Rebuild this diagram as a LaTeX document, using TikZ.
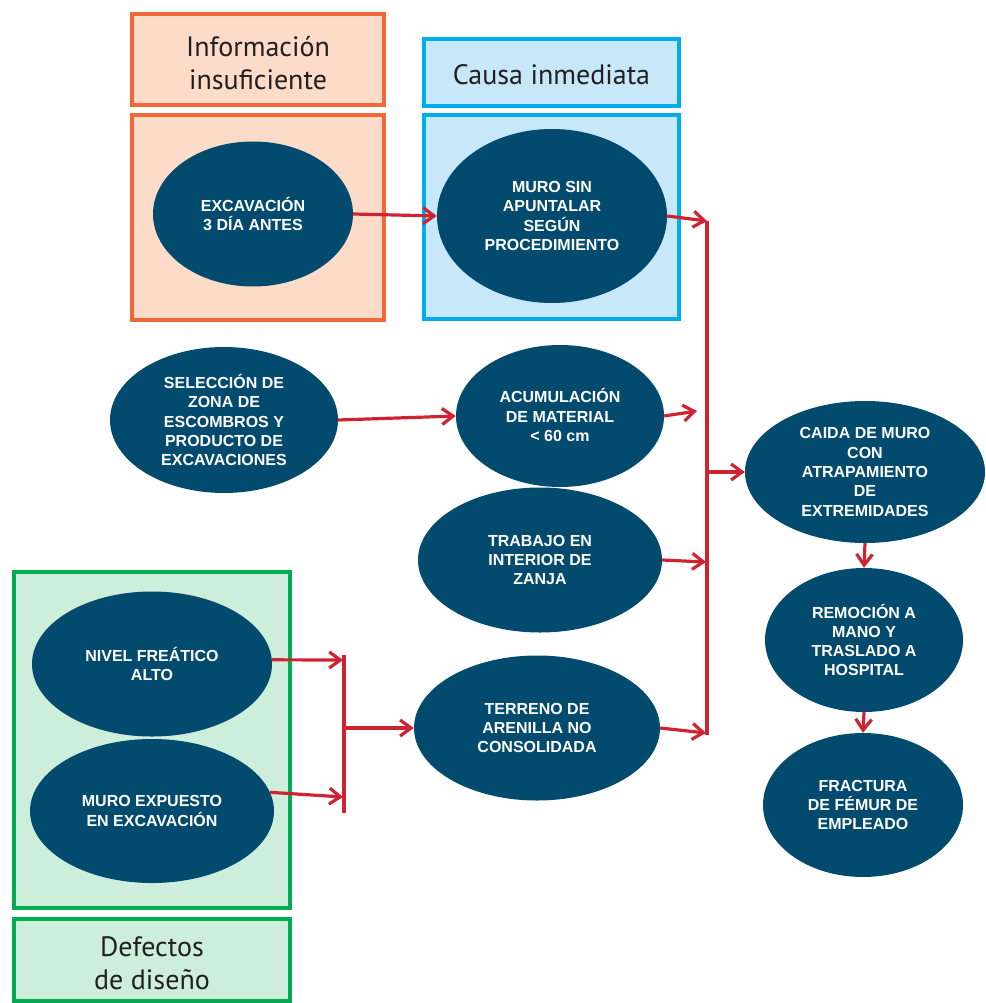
\documentclass[tikz,border=0pt]{standalone}
\usepackage{fontspec}
\setmainfont{Liberation Sans}
\newfontfamily\titlefont{PT Sans}
\newfontfamily\ellfont{Liberation Sans Bold}
\usetikzlibrary{arrows.meta,shapes.geometric}
\definecolor{ellblue}{RGB}{3,75,110}
\definecolor{arrred}{RGB}{208,35,50}
\definecolor{orborder}{RGB}{240,104,58}
\definecolor{orfill}{RGB}{252,220,200}
\definecolor{blborder}{RGB}{0,174,239}
\definecolor{blfill}{RGB}{198,232,248}
\definecolor{grborder}{RGB}{0,172,80}
\definecolor{grfill}{RGB}{204,238,218}
\definecolor{titletext}{RGB}{35,31,32}
\begin{document}
\begin{tikzpicture}[x=1pt,y=-1pt,
  ell/.style={ellipse, fill=ellblue, inner sep=0pt},
  etext/.style={text=white, font=\ellfont\fontsize{16}{19.3}\selectfont, align=center, inner sep=0pt},
  ttext/.style={text=titletext, font=\titlefont\fontsize{28}{33}\selectfont, align=center, inner sep=0pt},
  box/.style={rectangle, line width=4pt, inner sep=0pt},
  obox/.style={box, draw=orborder, fill=orfill},
  bbox/.style={box, draw=blborder, fill=blfill},
  gbox/.style={box, draw=grborder, fill=grfill},
  arr/.style={draw=arrred, line width=3.2pt, -{Straight Barb[length=11pt,width=16pt]}},
  busline/.style={draw=arrred, line width=3.2pt},
]
\useasboundingbox (0,0) rectangle (985,1003);

% group boxes
\node[obox, minimum width=252pt, minimum height=91pt] (otitle) at (258,59.5) {};
\node[obox, minimum width=252pt, minimum height=205pt] (obody) at (258,217.5) {};
\node[bbox, minimum width=255pt, minimum height=67pt] (btitle) at (551.5,72.5) {};
\node[bbox, minimum width=255pt, minimum height=204pt] (bbody) at (551.5,217) {};
\node[gbox, minimum width=276pt, minimum height=336pt] (gbody) at (152,740) {};
\node[gbox, minimum width=276pt, minimum height=82pt] (gtitle) at (152,960) {};

\node[ttext] (otext) at (258,63) {Información\\insuficiente};
\node[ttext] (btext) at (551.5,75) {Causa inmediata};
\node[ttext] (gtext) at (152,963) {Defectos\\de diseño};

% ellipses
\node[ell, minimum width=200pt, minimum height=145pt] (exc) at (253,214) {};
\node[ell, minimum width=230pt, minimum height=174pt] (muro) at (552,216) {};
\node[ell, minimum width=228pt, minimum height=146pt] (sel) at (224,420) {};
\node[ell, minimum width=208pt, minimum height=142pt] (acum) at (560,416) {};
\node[ell, minimum width=244pt, minimum height=145pt] (trab) at (540,560) {};
\node[ell, minimum width=246pt, minimum height=145pt] (terr) at (537,728) {};
\node[ell, minimum width=240pt, minimum height=145pt] (nivel) at (152,664) {};
\node[ell, minimum width=244pt, minimum height=144pt] (mexp) at (152,811) {};
\node[ell, minimum width=240pt, minimum height=142pt] (caida) at (865,472) {};
\node[ell, minimum width=198pt, minimum height=144pt] (remo) at (864,640) {};
\node[ell, minimum width=200pt, minimum height=144pt] (frac) at (863,805) {};

\node[etext] (excT) at (exc) {EXCAVACIÓN\\3 DÍA ANTES};
\node[etext] (muroT) at (muro) {MURO SIN\\APUNTALAR\\SEGÚN\\PROCEDIMIENTO};
\node[etext] (selT) at (sel) {SELECCIÓN DE\\ZONA DE\\ESCOMBROS Y\\PRODUCTO DE\\EXCAVACIONES};
\node[etext] (acumT) at (560,415) {ACUMULACIÓN\\DE MATERIAL\\< 60 cm};
\node[etext] (trabT) at (trab) {TRABAJO EN\\INTERIOR DE\\ZANJA};
\node[etext] (terrT) at (terr) {TERRENO DE\\ARENILLA NO\\CONSOLIDADA};
\node[etext] (nivelT) at (nivel) {NIVEL FREÁTICO\\ALTO};
\node[etext] (mexpT) at (mexp) {MURO EXPUESTO\\EN EXCAVACIÓN};
\node[etext] (caidaT) at (caida) {CAIDA DE MURO\\CON\\ATRAPAMIENTO\\DE\\EXTREMIDADES};
\node[etext] (remoT) at (remo) {REMOCIÓN A\\MANO Y\\TRASLADO A\\HOSPITAL};
\node[etext] (fracT) at (frac) {FRACTURA\\DE FÉMUR DE\\EMPLEADO};

% bus coordinates
\coordinate (bT) at (707,221);
\coordinate (bB) at (707,735);
\coordinate (bA) at (697,411);
\coordinate (bW) at (706,562);
\coordinate (bZ) at (706,733);
\coordinate (bC) at (707,472);
\coordinate (cT) at (344,655);
\coordinate (cB) at (344,813);
\coordinate (cN) at (343,660);
\coordinate (cM) at (343,797);
\coordinate (cC) at (344,728);

% connectors
\draw[arr] (exc.east) -- (muro.west);
\draw[arr] (sel.east) -- (acum.west);
\draw[busline] (bT) -- (bB);
\draw[arr] (muro.east) -- (bT);
\draw[arr] (acum.east) -- (bA);
\draw[arr] (trab.east) -- (bW);
\draw[arr] (terr.east) -- (bZ);
\draw[arr] (bC) -- (caida.west);
\draw[arr] (caida.south) -- (remo.north);
\draw[arr] (remo.south) -- (frac.north);
\draw[busline] (cT) -- (cB);
\draw[arr] (nivel.2) -- (cN);
\draw[arr] (mexp.9) -- (cM);
\draw[arr] (cC) -- (terr.west);
\end{tikzpicture}
\end{document}
